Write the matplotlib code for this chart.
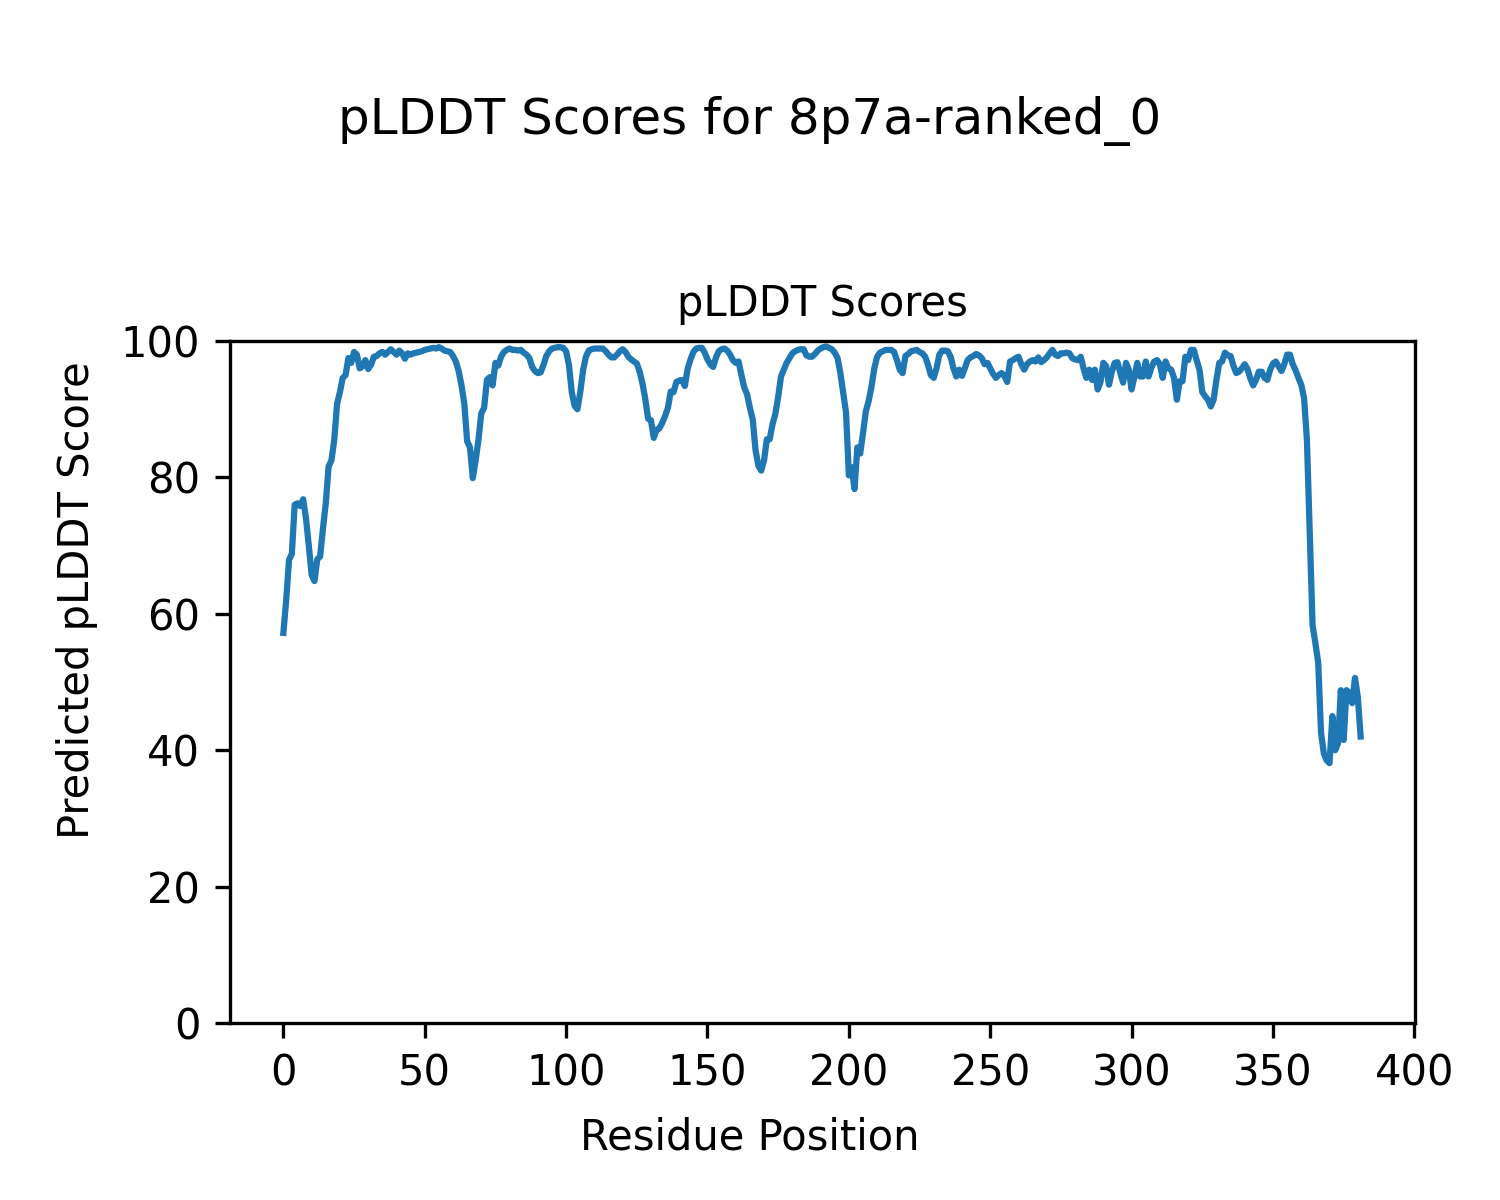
import matplotlib
matplotlib.use("Agg")
import matplotlib.pyplot as plt
import numpy as np

# pLDDT per residue
scores = [
    57.2, 62.0, 67.9, 68.8, 76.0, 76.2, 75.8, 76.8, 74.0, 70.0,
    65.7, 64.8, 68.0, 68.4, 72.5, 76.2, 81.6, 82.5, 85.5, 90.8,
    92.5, 94.6, 95.0, 97.5, 96.8, 98.4, 98.0, 96.0, 96.3, 97.2,
    95.9, 96.5, 97.7, 97.8, 98.2, 98.4, 98.0, 98.4, 98.8, 98.4,
    98.0, 98.6, 98.2, 97.4, 98.2, 98.0, 98.2, 98.3, 98.4, 98.5,
    98.7, 98.8, 98.9, 99.0, 98.9, 99.1, 98.9, 98.6, 98.5, 98.4,
    97.8, 97.0, 95.6, 93.5, 90.8, 85.3, 84.4, 79.9, 82.5, 85.5,
    89.4, 90.2, 94.3, 94.7, 93.5, 96.8, 96.4, 97.7, 98.4, 98.7,
    98.9, 98.7, 98.7, 98.6, 98.7, 98.3, 98.0, 97.5, 96.2, 95.6,
    95.3, 95.4, 96.5, 97.8, 98.5, 98.9, 99.0, 99.1, 99.1, 99.0,
    98.5, 96.5, 92.5, 90.5, 90.0, 92.5, 95.7, 97.7, 98.6, 98.8,
    98.9, 98.9, 98.9, 98.9, 98.5, 98.0, 97.6, 97.6, 98.0, 98.5,
    98.8, 98.4, 97.7, 97.3, 97.0, 96.7, 95.5, 93.8, 91.5, 88.6,
    88.4, 85.8, 87.0, 87.2, 88.0, 89.0, 90.2, 92.6, 92.5, 94.0,
    94.2, 94.3, 93.4, 96.0, 97.3, 98.4, 98.9, 99.0, 99.0, 98.3,
    97.3, 96.6, 96.2, 97.6, 98.5, 98.8, 98.9, 98.6, 98.0, 97.2,
    96.8, 97.0, 95.0, 93.2, 92.2, 90.2, 88.5, 84.0, 81.7, 81.0,
    82.5, 85.6, 85.6, 87.8, 89.3, 91.8, 94.8, 95.8, 96.8, 97.5,
    98.2, 98.5, 98.7, 98.8, 98.8, 97.9, 97.7, 97.7, 98.1, 98.6,
    98.9, 99.1, 99.2, 99.0, 98.8, 98.3, 97.5, 95.3, 92.4, 89.5,
    80.3, 81.5, 78.3, 84.4, 83.5, 86.5, 89.7, 91.2, 93.3, 96.0,
    97.7, 98.3, 98.5, 98.7, 98.7, 98.7, 98.4, 97.2, 95.8, 95.3,
    97.8, 98.1, 98.5, 98.6, 98.7, 98.4, 98.2, 97.7, 96.5, 95.0,
    94.6, 96.0, 98.0, 98.6, 98.6, 98.5, 97.7, 96.0, 94.8, 95.8,
    94.9, 96.0, 97.2, 97.6, 97.8, 98.1, 97.9, 97.5, 96.6, 96.8,
    96.0, 95.2, 94.6, 95.0, 95.3, 94.9, 94.0, 97.0, 97.2, 97.5,
    97.7, 96.6, 95.8, 96.6, 97.0, 97.2, 97.0, 97.6, 96.9, 97.2,
    97.6, 98.2, 98.7, 98.0, 97.8, 98.2, 98.2, 98.3, 98.2, 97.5,
    97.3, 97.2, 97.7, 96.0, 94.6, 95.8, 94.3, 95.8, 92.9, 94.0,
    96.8, 96.3, 93.6, 95.5, 96.8, 96.9, 95.3, 93.9, 96.8, 95.8,
    92.9, 94.8, 96.8, 94.8, 94.8, 97.0, 94.8, 96.1, 97.0, 97.2,
    96.6, 94.6, 97.0, 96.0, 95.8, 94.6, 91.4, 94.1, 94.1, 97.7,
    97.2, 98.7, 98.7, 97.2, 95.8, 92.5, 91.9, 91.4, 90.4, 91.4,
    94.3, 96.8, 97.0, 98.3, 97.9, 97.8, 96.4, 95.3, 95.5, 96.0,
    96.6, 95.9, 94.5, 93.5, 94.3, 95.5, 95.5, 94.6, 94.3, 95.8,
    96.7, 97.0, 96.3, 95.6, 96.6, 98.0, 98.0, 96.6, 95.7, 94.6,
    93.6, 91.6, 85.5, 72.0, 58.3, 55.7, 52.8, 42.5, 39.5, 38.5,
    38.1, 45.0, 40.0, 41.0, 48.8, 41.5, 48.8, 48.4, 46.9, 50.6,
    47.8, 42.0,
]
positions = np.arange(len(scores))

fig = plt.figure(figsize=(5, 4), dpi=300)
ax = fig.add_axes([0.153, 0.1475, 0.79, 0.5683])

ax.plot(positions, scores, color='#1f77b4', linewidth=1.5)
ax.set_ylim(0, 100)
ax.set_title('pLDDT Scores', fontsize=10)

# figure-level labels, centred on the whole figure
fig.text(0.5, 0.0517, 'Residue Position', ha='center', va='center', fontsize=10)
fig.text(0.0513, 0.5, 'Predicted pLDDT Score', ha='center', va='center',
         rotation=90, fontsize=10)
fig.suptitle('pLDDT Scores for 8p7a-ranked_0', y=0.92, fontsize=12)

fig.savefig('out.png', dpi=300)
